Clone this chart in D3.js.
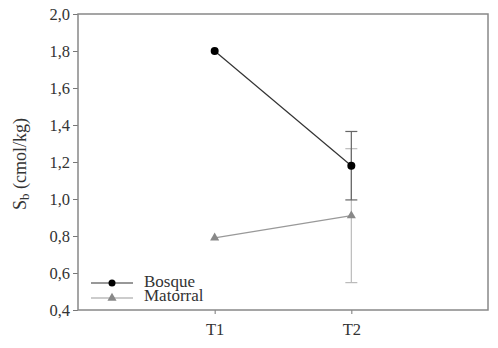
<!DOCTYPE html>
<html>
<head>
<meta charset="utf-8">
<script src="https://cdn.jsdelivr.net/npm/d3@7"></script>
<style>
    body { margin: 0; background: #fff; }
    text { font-family: "Liberation Serif", "Times New Roman", serif; fill: #333; }
</style>
</head>
<body>
<div id="chart"></div>
<script>
// data
const periods = ["T1", "T2"];
const periodPos = [1, 2];
const bosque = [1.80, 1.18];
const bosqueErr = [null, 0.185];
const matorral = [0.79, 0.91];
const matorralErr = [null, 0.362];
const yTicks = [0.4, 0.6, 0.8, 1.0, 1.2, 1.4, 1.6, 1.8, 2.0];

const W = 498, H = 348;
const margin = {top: 14, right: 10, bottom: 38, left: 78};
const width = W - margin.left - margin.right;
const height = H - margin.top - margin.bottom;

const svg = d3.select("#chart").append("svg")
    .attr("width", W)
    .attr("height", H);

const g = svg.append("g")
    .attr("transform", `translate(${margin.left},${margin.top})`);

const x = d3.scaleLinear().domain([0, 3]).range([0, width]);
const y = d3.scaleLinear().domain([0.4, 2.0]).range([height, 0]);

// axes
const yAxis = d3.axisLeft(y).tickValues(yTicks)
    .tickFormat(d => d3.format(".1f")(d).replace(".", ","))
    .tickSize(5).tickPadding(3).tickSizeOuter(0);
const xAxis = d3.axisBottom(x).tickValues(periodPos)
    .tickFormat((d, i) => periods[i])
    .tickSize(4).tickPadding(9).tickSizeOuter(0);

g.append("g").attr("class", "y-axis").call(yAxis);
g.append("g").attr("class", "x-axis")
    .attr("transform", `translate(0,${height})`)
    .call(xAxis);

g.selectAll(".domain").remove();
g.selectAll(".tick line").attr("stroke", "#777");
g.selectAll(".tick text").style("font-size", "16.5px").attr("fill", "#333");

// frame
g.append("rect")
    .attr("x", 0).attr("y", 0)
    .attr("width", width).attr("height", height)
    .attr("fill", "none")
    .attr("stroke", "#888")
    .attr("stroke-width", 1.5);

// y label
svg.append("text")
    .attr("transform", `translate(26,${margin.top + height / 2 + 2}) rotate(-90)`)
    .attr("text-anchor", "middle")
    .style("font-size", "18px")
    .html('S<tspan baseline-shift="-25%" font-size="13px">b</tspan> (cmol/kg)');

// error bars
function errorBars(vals, errs, color) {
    vals.forEach((v, i) => {
        if (errs[i] == null) return;
        const cx = x(periodPos[i]);
        const lo = y(v - errs[i]), hi = y(v + errs[i]);
        g.append("line").attr("x1", cx).attr("x2", cx).attr("y1", lo).attr("y2", hi)
            .attr("stroke", color).attr("stroke-width", 1.2);
        [lo, hi].forEach(yy => g.append("line")
            .attr("x1", cx - 6).attr("x2", cx + 6).attr("y1", yy).attr("y2", yy)
            .attr("stroke", color).attr("stroke-width", 1.2));
    });
}
errorBars(matorral, matorralErr, "#bbb");
errorBars(bosque, bosqueErr, "#666");

const line = d3.line().x((d, i) => x(periodPos[i])).y(d => y(d));

g.append("path").datum(matorral).attr("d", line)
    .attr("fill", "none").attr("stroke", "#999").attr("stroke-width", 1.2);
g.append("path").datum(bosque).attr("d", line)
    .attr("fill", "none").attr("stroke", "#333").attr("stroke-width", 1.2);

const tri = d3.symbol().type(d3.symbolTriangle).size(36);

g.selectAll(".mat-pt").data(matorral).enter().append("path")
    .attr("class", "mat-pt")
    .attr("d", tri)
    .attr("transform", (d, i) => `translate(${x(periodPos[i])},${y(d)})`)
    .attr("fill", "#888");

g.selectAll(".bos-pt").data(bosque).enter().append("circle")
    .attr("class", "bos-pt")
    .attr("cx", (d, i) => x(periodPos[i]))
    .attr("cy", d => y(d))
    .attr("r", 4)
    .attr("fill", "#000");

// legend
const legend = svg.append("g").attr("transform", "translate(91,283)");
legend.append("line").attr("x1", 0).attr("x2", 42).attr("y1", 0).attr("y2", 0)
    .attr("stroke", "#333").attr("stroke-width", 1.2);
legend.append("circle").attr("cx", 21).attr("cy", 0).attr("r", 3.5).attr("fill", "#000");
legend.append("text").attr("x", 53).attr("y", 4).style("font-size", "17px").text("Bosque");

legend.append("line").attr("x1", 0).attr("x2", 42).attr("y1", 15).attr("y2", 15)
    .attr("stroke", "#999").attr("stroke-width", 1.2);
legend.append("path").attr("d", tri).attr("transform", "translate(21,15)").attr("fill", "#888");
legend.append("text").attr("x", 53).attr("y", 18).style("font-size", "17px").text("Matorral");
</script>
</body>
</html>
